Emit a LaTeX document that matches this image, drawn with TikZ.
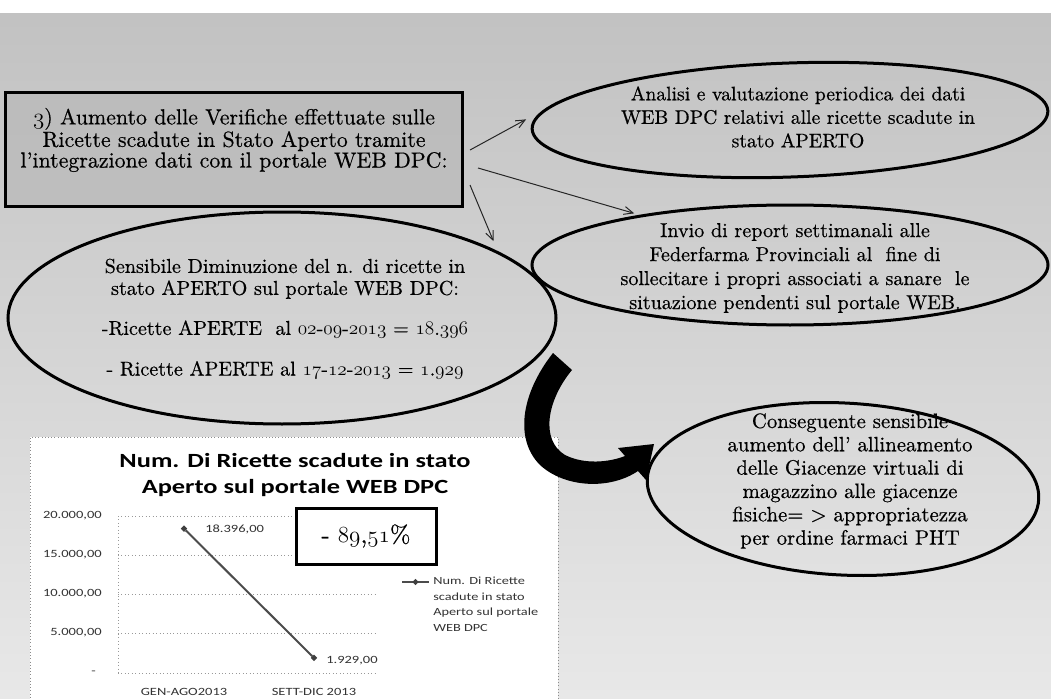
\documentclass[tikz,border=0pt]{standalone}
\usepackage{fontspec}
\newfontfamily\chartfont{Carlito}[FakeStretch=1.31]
\newfontfamily\slidefont{lmroman10-regular.otf}[FakeBold=0.5, Ligatures=TeX]
\usepackage{tikz}
\usetikzlibrary{shapes.geometric}
\newcommand{\oldnum}[1]{{\usefont{OML}{lmm}{m}{it}#1}}

\begin{document}
\begin{tikzpicture}[x=0.75pt,y=0.75pt,yscale=-1,xscale=1,
  bubble/.style={ellipse, draw, line width=2.25pt, inner sep=0pt},
  bubbletext/.style={align=center, inner sep=0.75pt},
  gridline/.style={color=black!40, dotted, line width=0.6pt},
  ticklabel/.style={font=\chartfont\fontsize{8.3}{10}\selectfont, color=black!80, inner sep=0.75pt},
  marker/.style={diamond, fill=black!75, inner sep=0pt, minimum size=5pt},
  serie/.style={color=black!70, line width=1.5pt}]
\useasboundingbox (0,0) rectangle (1051,699);

%Shape: Rectangle [id:background]
\fill [white] (0,0) rectangle (1051,699);
\shade [top color=black!24, bottom color=black!9] (0,14) rectangle (1051,699);

%Shape: Rectangle [id:verifiche]
\node (verifiche) [draw, line width=2.25pt, fill=black!30, fill opacity=0.5, minimum width=342.75pt, minimum height=84.75pt] at (233.5,149.5) {};
% Text Node
\node (verifichetext) [bubbletext, font=\slidefont\fontsize{16.4}{15.5}\selectfont] at (234,140) {\oldnum{3}) Aumento delle Verifiche effettuate sulle\\Ricette scadute in Stato Aperto tramite\\l'integrazione dati con il portale WEB DPC:};

%Shape: Ellipse [id:analisi]
\node (analisi) [bubble, minimum width=387pt, minimum height=85.5pt, rotate=2] at (790,120) {};
% Text Node
\node (analisitext) [bubbletext, font=\slidefont\fontsize{14.7}{17.6}\selectfont] at (798,117) {Analisi e valutazione periodica dei dati\\WEB DPC relativi alle ricette scadute in\\stato APERTO};

%Shape: Ellipse [id:invio]
\node (invio) [bubble, minimum width=387pt, minimum height=90pt] at (790,265) {};
% Text Node
\node (inviotext) [bubbletext, font=\slidefont\fontsize{15.1}{18}\selectfont] at (795,268) {Invio di report settimanali alle\\Federfarma Provinciali al~ fine di\\sollecitare i propri associati a sanare~ le\\situazione pendenti sul portale WEB.};

%Shape: Ellipse [id:sensibile]
\node (sensibile) [bubble, minimum width=411pt, minimum height=159pt] at (282,318) {};
% Text Node
\node (sensibiletext) [bubbletext, font=\slidefont\fontsize{15.1}{16.5}\selectfont] at (285,319) {Sensibile Diminuzione del n. di ricette in\\stato APERTO sul portale WEB DPC:\\[13.5pt]-Ricette APERTE~ al \oldnum{02}-\oldnum{09}-\oldnum{2013} = \oldnum{18}.\oldnum{396}\\[14pt]- Ricette APERTE al \oldnum{17}-\oldnum{12}-\oldnum{2013} = \oldnum{1}.\oldnum{929}};

%Straight Lines [id:arrow1]
\coordinate (a1) at (470,150);
\coordinate (e1) at (525,120);
\draw [color=black!85, line width=0.75] (a1) -- (e1);
\draw [shift={(e1)}, rotate=151.4] [color=black!85, line width=0.75] (9,-4) -- (0,0) -- (9,4);
%Straight Lines [id:arrow2]
\coordinate (a2) at (478,168);
\coordinate (e2) at (633,213);
\draw [color=black!85, line width=0.75] (a2) -- (e2);
\draw [shift={(e2)}, rotate=196.2] [color=black!85, line width=0.75] (9,-4) -- (0,0) -- (9,4);
%Straight Lines [id:arrow3]
\coordinate (a3) at (470,185);
\coordinate (e3) at (493,240);
\draw [color=black!85, line width=0.75] (a3) -- (e3);
\draw [shift={(e3)}, rotate=247.3] [color=black!85, line width=0.75] (9,-4) -- (0,0) -- (9,4);

%Shape: Rectangle [id:chart]
\node (chart) [draw=black!45, dotted, fill=white, minimum width=396pt, minimum height=198.75pt] at (294,569.5) {};
% Text Node
\node (charttitle) [align=center, font=\chartfont\bfseries\fontsize{15.1}{19.5}\selectfont] at (295,475) {Num. Di Ricette scadute in stato\\Aperto sul portale WEB DPC};

%Straight Lines [id:grid]
\draw [gridline] (118,516) -- (377,516);
\draw [gridline] (118,555) -- (377,555);
\draw [gridline] (118,594) -- (377,594);
\draw [gridline] (118,633) -- (377,633);
\draw [gridline] (118,673) -- (377,673);
\draw [gridline] (118,516) -- (118,673);

% Text Node
\node (y20) [ticklabel, anchor=east] at (103,516) {20.000,00};
\node (y15) [ticklabel, anchor=east] at (103,555) {15.000,00};
\node (y10) [ticklabel, anchor=east] at (103,594) {10.000,00};
\node (y5) [ticklabel, anchor=east] at (103,633) {5.000,00};
\node (y0) [ticklabel, anchor=east] at (97,673) {-};

%Shape: Diamond [id:gen]
\node (gen) [marker] at (184,528.6) {};
%Shape: Diamond [id:sett]
\node (sett) [marker] at (314,657.9) {};
%Straight Lines [id:serie]
\draw [serie] (gen) -- (sett);

% Text Node
\node (lab1) [ticklabel, anchor=west] at (204,529) {18.396,00};
\node (lab2) [ticklabel, anchor=west] at (325,661) {1.929,00};
\node (cat1) [ticklabel] at (184,692) {GEN-AGO2013};
\node (cat2) [ticklabel] at (314,692) {SETT-DIC 2013};

%Shape: Rectangle [id:calo]
\node (calo) [draw, line width=2.25pt, fill=white, minimum width=105pt, minimum height=42pt, font=\slidefont\fontsize{18.5}{20}\selectfont] at (366,536) {- \oldnum{89},\oldnum{51}\%};

%Straight Lines [id:legenda]
\coordinate (leg1) at (402,582);
\coordinate (leg2) at (429,582);
\draw [serie] (leg1) -- (leg2);
\node (legmark) [marker] at (415.5,582) {};
% Text Node
\node (legtext) [anchor=north west, align=left, inner sep=0.75pt, color=black!80, font=\chartfont\fontsize{8.2}{11.6}\selectfont] at (432,576) {Num. Di Ricette\\scadute in stato\\Aperto sul portale\\WEB DPC};

%Shape: Free Drawing [id:curvedarrow]
\fill [black] (553,353) -- (572,370) .. controls (547,400) and (540,440) .. (565,455) .. controls (585,465) and (610,462) .. (625,456) -- (618,448) -- (654,444) -- (646,480) -- (638,471) .. controls (610,490) and (565,488) .. (540,465) .. controls (515,440) and (520,395) .. (553,353) -- cycle;

%Shape: Ellipse [id:conseguente]
\node (conseguente) [bubble, minimum width=294pt, minimum height=129pt, rotate=-3] at (843,489) {};
% Text Node
\node (conseguentetext) [bubbletext, font=\slidefont\fontsize{15.6}{17.5}\selectfont] at (850,481) {Conseguente sensibile\\aumento dell' allineamento\\delle Giacenze virtuali di\\magazzino alle giacenze\\fisiche= > appropriatezza\\per ordine farmaci PHT};

\end{tikzpicture}
\end{document}
